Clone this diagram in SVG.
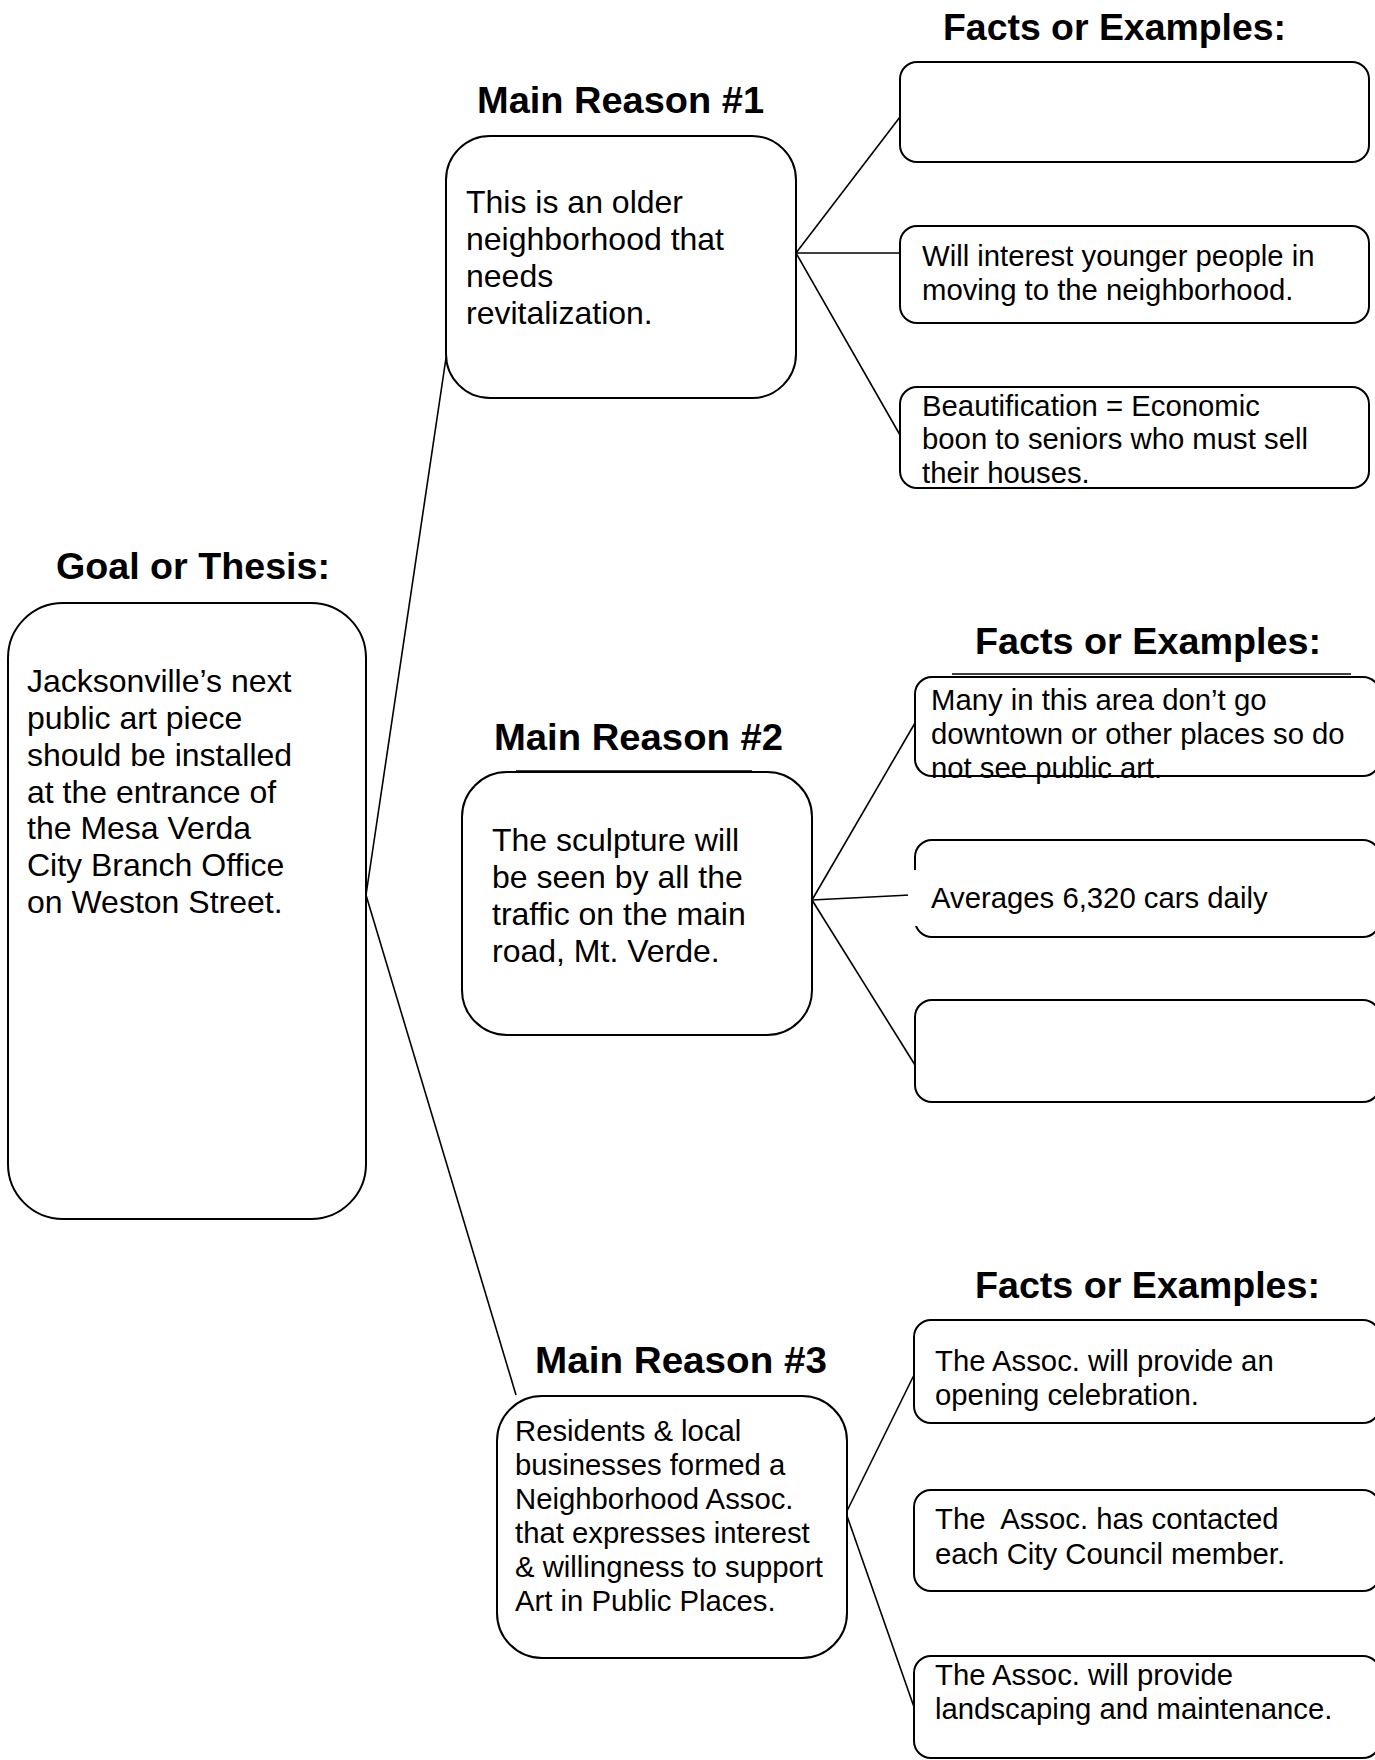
<svg xmlns="http://www.w3.org/2000/svg" width="1375" height="1760" viewBox="0 0 1375 1760">
<style>
.bg{fill:#fff}
.box{fill:#fff;stroke:#000;stroke-width:2}
.ln{stroke:#000;stroke-width:1.6;fill:none}
.hd{font-family:"Liberation Sans",Arial,sans-serif;font-weight:bold;font-size:37px;fill:#000}
.t32{font-family:"Liberation Sans",Arial,sans-serif;font-size:32px;fill:#000}
.t29{font-family:"Liberation Sans",Arial,sans-serif;font-size:29.3px;fill:#000}
</style>
<rect class="bg" x="0" y="0" width="1375" height="1760"/>
<g id="connectors">
<line class="ln" x1="366" y1="895" x2="446" y2="358"/>
<line class="ln" x1="366" y1="895" x2="516" y2="1395"/>
<line class="ln" x1="796" y1="253" x2="900" y2="117"/>
<line class="ln" x1="796" y1="253" x2="900" y2="253"/>
<line class="ln" x1="796" y1="253" x2="900" y2="435"/>
<line class="ln" x1="812" y1="900" x2="915" y2="723"/>
<line class="ln" x1="812" y1="900" x2="910" y2="895"/>
<line class="ln" x1="812" y1="900" x2="915" y2="1065"/>
<line class="ln" x1="846" y1="1513" x2="914" y2="1375"/>
<line class="ln" x1="846" y1="1513" x2="914" y2="1707"/>
</g>
<g id="headings">
<text class="hd" x="943" y="40" textLength="343" lengthAdjust="spacingAndGlyphs">Facts or Examples:</text>
<text class="hd" x="477" y="113" textLength="287" lengthAdjust="spacingAndGlyphs">Main Reason #1</text>
<text class="hd" x="56" y="579" textLength="274" lengthAdjust="spacingAndGlyphs">Goal or Thesis:</text>
<text class="hd" x="975" y="654" textLength="346" lengthAdjust="spacingAndGlyphs">Facts or Examples:</text>
<text class="hd" x="494" y="750" textLength="289" lengthAdjust="spacingAndGlyphs">Main Reason #2</text>
<text class="hd" x="975" y="1298" textLength="345" lengthAdjust="spacingAndGlyphs">Facts or Examples:</text>
<text class="hd" x="535" y="1373" textLength="292" lengthAdjust="spacingAndGlyphs">Main Reason #3</text>
</g>
<g id="goal">
<rect class="box" x="8" y="603" width="358" height="616" rx="55" ry="55"/>
<text class="t32"><tspan x="27" y="692">Jacksonville’s next</tspan><tspan x="27" y="729">public art piece</tspan><tspan x="27" y="766">should be installed</tspan><tspan x="27" y="803">at the entrance of</tspan><tspan x="27" y="839">the Mesa Verda</tspan><tspan x="27" y="876">City Branch Office</tspan><tspan x="27" y="913">on Weston Street.</tspan></text>
</g>
<g id="reason1">
<rect class="box" x="446" y="136" width="350" height="262" rx="44" ry="44"/>
<text class="t32"><tspan x="466" y="213">This is an older</tspan><tspan x="466" y="250">neighborhood that</tspan><tspan x="466" y="287">needs</tspan><tspan x="466" y="324">revitalization.</tspan></text>
</g>
<g id="fact1a">
<rect class="box" x="900" y="62" width="469" height="100" rx="17" ry="17"/>
</g>
<g id="fact1b">
<rect class="box" x="900" y="226" width="469" height="97" rx="17" ry="17"/>
<text class="t29"><tspan x="922" y="266">Will interest younger people in</tspan><tspan x="922" y="300">moving to the neighborhood.</tspan></text>
</g>
<g id="fact1c">
<rect class="box" x="900" y="387" width="469" height="101" rx="17" ry="17"/>
<text class="t29"><tspan x="922" y="416">Beautification = Economic</tspan><tspan x="922" y="449">boon to seniors who must sell</tspan><tspan x="922" y="483">their houses.</tspan></text>
</g>
<g id="reason2">
<rect class="box" x="462" y="772" width="350" height="263" rx="45" ry="45"/>
<line class="ln" x1="516" y1="771" x2="752" y2="771"/>
<text class="t32"><tspan x="492" y="851">The sculpture will</tspan><tspan x="492" y="888">be seen by all the</tspan><tspan x="492" y="925">traffic on the main</tspan><tspan x="492" y="962">road, Mt. Verde.</tspan></text>
</g>
<g id="fact2a">
<rect class="box" x="915" y="677" width="465" height="99" rx="17" ry="17"/>
<line class="ln" x1="952" y1="674" x2="1351" y2="674"/>
<text class="t29"><tspan x="931" y="710">Many in this area don’t go</tspan><tspan x="931" y="744">downtown or other places so do</tspan><tspan x="931" y="778">not see public art.</tspan></text>
</g>
<g id="fact2b">
<rect class="box" x="915" y="840" width="465" height="97" rx="17" ry="17"/>
<rect x="908" y="870" width="340" height="56" fill="#fff"/>
<text class="t29" x="931" y="908">Averages 6,320 cars daily</text>
</g>
<g id="fact2c">
<rect class="box" x="915" y="1000" width="465" height="102" rx="17" ry="17"/>
</g>
<g id="reason3">
<rect class="box" x="497" y="1396" width="350" height="262" rx="45" ry="45"/>
<text class="t29"><tspan x="515" y="1441">Residents &amp; local</tspan><tspan x="515" y="1475">businesses formed a</tspan><tspan x="515" y="1509">Neighborhood Assoc.</tspan><tspan x="515" y="1543">that expresses interest</tspan><tspan x="515" y="1577">&amp; willingness to support</tspan><tspan x="515" y="1611">Art in Public Places.</tspan></text>
</g>
<g id="fact3a">
<rect class="box" x="914" y="1320" width="466" height="103" rx="17" ry="17"/>
<text class="t29"><tspan x="935" y="1371">The Assoc. will provide an</tspan><tspan x="935" y="1405">opening celebration.</tspan></text>
</g>
<g id="fact3b">
<rect class="box" x="914" y="1490" width="466" height="101" rx="17" ry="17"/>
<text class="t29" xml:space="preserve"><tspan x="935" y="1529">The  Assoc. has contacted</tspan><tspan x="935" y="1564">each City Council member.</tspan></text>
</g>
<g id="fact3c">
<rect class="box" x="914" y="1656" width="466" height="102" rx="17" ry="17"/>
<text class="t29"><tspan x="935" y="1685">The Assoc. will provide</tspan><tspan x="935" y="1719">landscaping and maintenance.</tspan></text>
</g>
</svg>
